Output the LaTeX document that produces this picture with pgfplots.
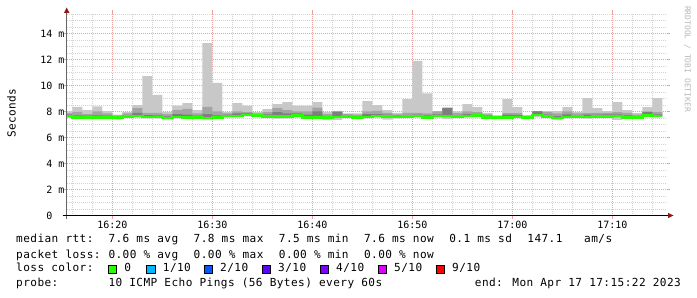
\documentclass[border=0pt]{standalone}
\usepackage{pgfplots}
\pgfplotsset{compat=1.18}
\usepackage{pgfplotstable}
\usepgfplotslibrary{fillbetween}
\usepackage{fontspec}
\newfontfamily\monoL[LetterSpace=3.8]{DejaVu Sans Mono}
\newfontfamily\mono{DejaVu Sans Mono}
\newcommand\lf{\monoL\fontsize{11.1bp}{13bp}\selectfont}
\newcommand\af{\mono\fontsize{10bp}{12bp}\selectfont}
\definecolor{smokeL}{HTML}{C8C8C8}
\definecolor{smokeM}{HTML}{A4A4A4}
\definecolor{smokeD}{HTML}{7E7E7E}
\definecolor{medgreen}{HTML}{26FF00}
\definecolor{mgrid}{RGB}{236,160,160}
\definecolor{ngrid}{RGB}{212,212,212}
\definecolor{arrowred}{HTML}{8B1A1A}
\definecolor{l1}{HTML}{00B8FF}
\definecolor{l2}{HTML}{0059FF}
\definecolor{l3}{HTML}{5E00FF}
\definecolor{l4}{HTML}{7E00FF}
\definecolor{l5}{HTML}{DD00FF}
\definecolor{l9}{HTML}{FF0000}

\pgfplotstableread{
x min med q70 q90 max
15.44 7.50 7.66 7.78 7.85 8.00
16 7.45 7.55 7.70 7.98 8.36
17 7.42 7.52 7.68 7.80 8.10
18 7.42 7.52 7.70 8.00 8.40
19 7.42 7.52 7.68 7.85 8.03
20 7.40 7.55 7.62 7.70 7.75
21 7.52 7.62 7.72 7.85 7.95
22 7.55 7.65 7.90 8.25 8.49
23 7.48 7.58 7.72 7.90 10.73
24 7.48 7.58 7.70 7.90 9.27
25 7.40 7.50 7.62 7.80 7.95
26 7.48 7.58 7.80 8.10 8.46
27 7.43 7.53 7.75 8.20 8.65
28 7.43 7.53 7.68 7.85 8.10
29 7.40 7.50 7.80 8.35 13.26
30 7.43 7.53 7.70 8.00 10.20
31 7.55 7.65 7.75 7.85 7.95
32 7.55 7.65 7.85 8.00 8.65
33 7.62 7.72 7.85 7.95 8.46
34 7.58 7.68 7.78 7.85 7.95
35 7.50 7.60 7.78 7.95 8.19
36 7.46 7.60 7.95 8.25 8.57
37 7.48 7.60 7.85 8.10 8.72
38 7.58 7.68 7.85 8.00 8.46
39 7.46 7.56 7.75 8.00 8.46
40 7.46 7.56 8.00 8.30 8.72
41 7.35 7.53 7.65 7.80 7.95
42 7.35 7.58 7.95 8.03 8.05
43 7.52 7.62 7.70 7.80 7.85
44 7.46 7.56 7.65 7.75 7.85
45 7.48 7.58 7.80 8.00 8.80
46 7.55 7.65 7.80 8.05 8.49
47 7.38 7.60 7.75 7.90 8.10
48 7.47 7.57 7.68 7.78 7.90
49 7.50 7.60 7.72 7.90 8.96
50 7.55 7.65 7.75 7.90 11.90
51 7.46 7.56 7.70 7.85 9.40
52 7.55 7.65 7.78 8.00 8.03
53 7.42 7.65 8.25 8.28 8.31
54 7.50 7.60 7.72 7.88 8.00
55 7.55 7.65 7.80 8.00 8.57
56 7.57 7.67 7.80 7.95 8.33
57 7.45 7.55 7.68 7.78 7.90
58 7.42 7.52 7.60 7.66 7.70
59 7.45 7.55 7.75 7.88 8.96
60 7.47 7.57 7.72 7.88 8.33
61 7.45 7.55 7.62 7.68 7.70
62 7.55 7.72 8.00 8.02 8.03
63 7.53 7.63 7.75 7.95 8.03
64 7.38 7.50 7.65 7.85 8.03
65 7.47 7.57 7.78 8.00 8.33
66 7.53 7.63 7.72 7.85 7.95
67 7.45 7.58 7.75 7.88 9.03
68 7.50 7.60 7.75 7.90 8.26
69 7.52 7.62 7.78 7.90 8.03
70 7.35 7.65 7.78 7.95 8.72
71 7.45 7.55 7.70 7.90 8.10
72 7.45 7.55 7.65 7.75 7.88
73 7.60 7.70 7.95 8.00 8.33
74 7.55 7.65 7.78 7.95 9.03
75 7.55 7.65 7.78 7.95 9.03
}\data

\begin{document}
\begin{tikzpicture}[x=1bp,y=1bp]
\path (0,0) rectangle (697,297);
\begin{axis}[
  at={(66.7bp,81.5bp)}, anchor=south west,
  scale only axis, width=600bp, height=201.5bp,
  xmin=15.44, xmax=75.44, ymin=0, ymax=15.5,
  xtick={20,30,40,50,60,70},
  xticklabels={16:20,16:30,16:40,16:50,17:00,17:10},
  minor xtick={16,18,22,24,26,28,32,34,36,38,42,44,46,48,52,54,56,58,62,64,66,68,72,74},
  ytick={0,2,4,6,8,10,12,14},
  yticklabels={0\phantom{ m},2 m,4 m,6 m,8 m,10 m,12 m,14 m},
  minor ytick={0.5,1,1.5,2.5,3,3.5,4.5,5,5.5,6.5,7,7.5,8.5,9,9.5,10.5,11,11.5,12.5,13,13.5,14.5,15,15.5},
  grid=both,
  major grid style={draw=mgrid, line width=0.7bp, dash pattern=on 1bp off 1bp},
  minor grid style={draw=ngrid, line width=0.7bp, dash pattern=on 1bp off 1bp},
  axis line style={draw=none},
  tick align=outside,
  major tick length=3.5bp, minor tick length=0bp,
  major tick style={draw=mgrid, line width=0.8bp},
  yticklabel style={font=\af, anchor=east, inner sep=0pt, xshift=1.5bp},
  xticklabel style={font=\af, anchor=north, inner sep=0pt, yshift=-1.5bp},
]
\addplot[name path=pmin, const plot, draw=none, forget plot] table[x=x, y=min] {\data};
\addplot[name path=pmed, const plot, draw=none, forget plot] table[x=x, y=med] {\data};
\addplot[name path=p70, const plot, draw=none, forget plot] table[x=x, y=q70] {\data};
\addplot[name path=p90, const plot, draw=none, forget plot] table[x=x, y=q90] {\data};
\addplot[name path=pmax, const plot, draw=none, forget plot] table[x=x, y=max] {\data};
\addplot[smokeL, draw=none] fill between[of=pmax and pmin];
\addplot[smokeM, draw=none] fill between[of=p90 and pmed];
\addplot[smokeD, draw=none] fill between[of=p70 and pmed];
\addplot[const plot, draw=medgreen, line width=2.7bp] table[x=x, y=med] {\data};
\end{axis}
% axes
\draw[line width=1bp, black!60] (66.7,78) -- (66.7,285);
\fill[arrowred] (64.0,284.0) -- (69.4,284.0) -- (66.7,289.5) -- cycle;
\draw[line width=1bp, black] (62.7,81.5) -- (668.5,81.5);
\fill[arrowred] (668.0,78.8) -- (668.0,84.2) -- (673.5,81.5) -- cycle;
% y label and watermark
\node[rotate=90, font=\lf, inner sep=0pt] at (11.5,184) {Seconds};
\node[rotate=-90, font=\mono\fontsize{8bp}{9bp}\selectfont, text=black!28, inner sep=0pt] at (687.5,238) {RRDTOOL / TOBI OETIKER};
% legend
\begin{scope}[every node/.style={font=\lf, inner sep=0pt, anchor=mid west}]
\node at (16,56.3) {median rtt:};
\node at (108.3,56.3) {7.6 ms avg};
\node at (193.5,56.3) {7.8 ms max};
\node at (278.7,56.3) {7.5 ms min};
\node at (363.9,56.3) {7.6 ms now};
\node at (449.1,56.3) {0.1 ms sd};
\node at (527.2,56.3) {147.1};
\node at (584.0,56.3) {am/s};
\node at (16,41) {packet loss:};
\node at (108.3,41) {0.00 \% avg};
\node at (193.5,41) {0.00 \% max};
\node at (278.7,41) {0.00 \% min};
\node at (363.9,41) {0.00 \% now};
\node at (16,27.7) {loss color:};
\node at (124.2,27.7) {0};
\node at (162.7,27.7) {1/10};
\node at (220,27.7) {2/10};
\node at (278,27.7) {3/10};
\node at (336,27.7) {4/10};
\node at (394,27.7) {5/10};
\node at (452,27.7) {9/10};
\node at (16,13) {probe:};
\node at (108.3,13) {10 ICMP Echo Pings (56 Bytes) every 60s};
\node[anchor=mid east] at (681,13) {end: Mon Apr 17 17:15:22 2023};
\end{scope}
\foreach \bx/\bc in {108/medgreen,146.7/l1,204/l2,262/l3,320/l4,378/l5,436/l9}{
  \draw[line width=0.8bp, black, fill=\bc] (\bx,23.5) rectangle ++(8.5,8.5);
}
\end{tikzpicture}
\end{document}
